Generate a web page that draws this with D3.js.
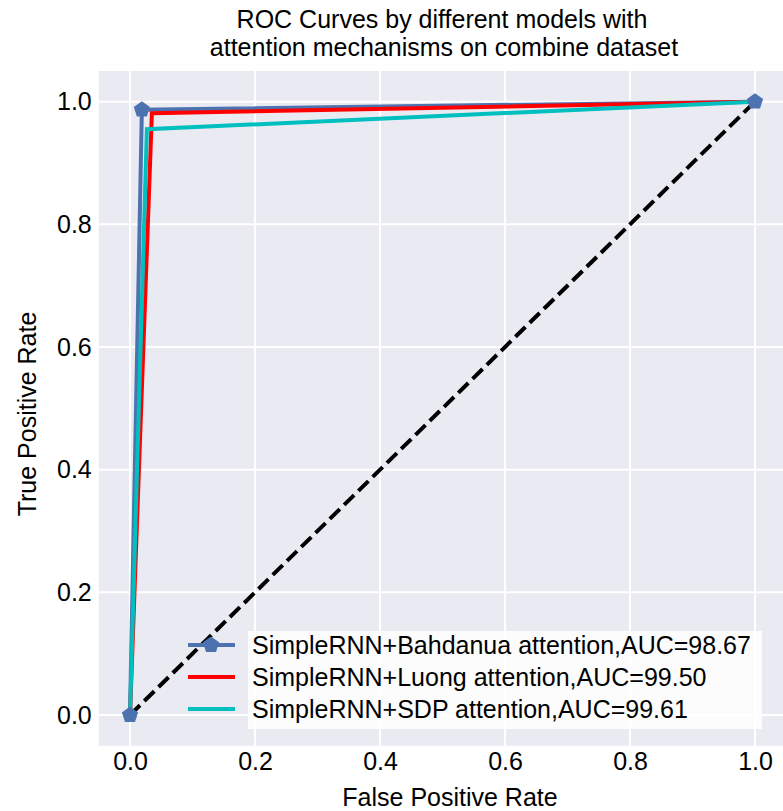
<!DOCTYPE html>
<html>
<head>
<meta charset="utf-8">
<script src="https://cdn.jsdelivr.net/npm/d3@7"></script>
<style>
  body { margin: 0; background: #fff; }
  text { font-family: "Liberation Sans", Arial, sans-serif; fill: #000; }
</style>
</head>
<body>
<svg id="chart" width="783" height="811"></svg>
<script>
// ROC points
var bahdanauFpr = [0, 0.019, 1];
var bahdanauTpr = [0, 0.987, 1];
var luongFpr = [0, 0.035, 1];
var luongTpr = [0, 0.981, 1];
var sdpFpr = [0, 0.027, 1];
var sdpTpr = [0, 0.955, 1];
var diagonal = [0, 1];

var seriesNames = ["SimpleRNN+Bahdanua attention,AUC=98.67",
                   "SimpleRNN+Luong attention,AUC=99.50",
                   "SimpleRNN+SDP attention,AUC=99.61"];
var seriesColors = ["#4c72b0", "#ff0000", "#00bfbf"];
var tickValues = [0, 0.2, 0.4, 0.6, 0.8, 1.0];

var FONT = "25px";
var svg = d3.select("#chart");

var x = d3.scaleLinear().domain([-0.05, 1.05]).range([98.75, 786.25]);
var y = d3.scaleLinear().domain([-0.05, 1.05]).range([745.7, 71]);

// background
svg.append("rect")
    .attr("x", x(-0.05)).attr("y", y(1.05))
    .attr("width", x(1.05) - x(-0.05))
    .attr("height", y(-0.05) - y(1.05))
    .attr("fill", "#eaeaf2");

// grid
svg.append("g").selectAll("line").data(tickValues).enter().append("line")
    .attr("x1", function(d) { return x(d); }).attr("x2", function(d) { return x(d); })
    .attr("y1", y(1.05)).attr("y2", y(-0.05))
    .attr("stroke", "#fff").attr("stroke-width", 2);
svg.append("g").selectAll("line").data(tickValues).enter().append("line")
    .attr("y1", function(d) { return y(d); }).attr("y2", function(d) { return y(d); })
    .attr("x1", x(-0.05)).attr("x2", x(1.05))
    .attr("stroke", "#fff").attr("stroke-width", 2);

// axes (labels only, seaborn style)
var xAxis = svg.append("g")
    .attr("transform", "translate(0," + y(-0.05) + ")")
    .call(d3.axisBottom(x).tickValues(tickValues).tickFormat(d3.format(".1f")).tickSize(0).tickPadding(7));
var yAxis = svg.append("g")
    .attr("transform", "translate(" + x(-0.05) + ",0)")
    .call(d3.axisLeft(y).tickValues(tickValues).tickFormat(d3.format(".1f")).tickSize(0).tickPadding(7));
[xAxis, yAxis].forEach(function(a) {
    a.select(".domain").remove();
    a.selectAll("text").style("font-size", FONT).style("font-family", "Liberation Sans, Arial, sans-serif");
});

var line = d3.line()
    .x(function(d) { return x(d[0]); })
    .y(function(d) { return y(d[1]); });

function zipPts(a, b) { return a.map(function(v, i) { return [v, b[i]]; }); }

var series = [zipPts(bahdanauFpr, bahdanauTpr), zipPts(luongFpr, luongTpr), zipPts(sdpFpr, sdpTpr)];

series.forEach(function(pts, i) {
    svg.append("path")
        .attr("d", line(pts))
        .attr("fill", "none")
        .attr("stroke", seriesColors[i])
        .attr("stroke-width", 4)
        .attr("stroke-linejoin", "miter");
});

svg.append("path")
    .attr("d", line(zipPts(diagonal, diagonal)))
    .attr("fill", "none")
    .attr("stroke", "#000")
    .attr("stroke-width", 4)
    .attr("stroke-dasharray", "14,6");

function pentagonPath(r) {
    var p = [];
    for (var k = 0; k < 5; k++) {
        var a = -Math.PI / 2 + k * 2 * Math.PI / 5;
        p.push([r * Math.cos(a), r * Math.sin(a)]);
    }
    return "M" + p.join("L") + "Z";
}

svg.append("g").selectAll("path").data(series[0]).enter().append("path")
    .attr("d", pentagonPath(8.5))
    .attr("transform", function(d) { return "translate(" + x(d[0]) + "," + y(d[1]) + ")"; })
    .attr("fill", seriesColors[0]);

// legend
var lg = svg.append("g");
lg.append("rect")
    .attr("x", 248).attr("y", 631).attr("width", 514).attr("height", 98)
    .attr("fill", "#fff").attr("fill-opacity", 0.85);
seriesNames.forEach(function(name, i) {
    var cy = 645 + i * 32;
    lg.append("line")
        .attr("x1", 188).attr("x2", 235).attr("y1", cy).attr("y2", cy)
        .attr("stroke", seriesColors[i]).attr("stroke-width", 4);
    if (i === 0) {
        lg.append("path").attr("d", pentagonPath(8.5))
            .attr("transform", "translate(211," + cy + ")")
            .attr("fill", seriesColors[0]);
    }
    lg.append("text")
        .attr("x", 252).attr("y", cy + 9)
        .style("font-size", FONT)
        .text(name);
});

// title and axis labels
svg.append("text").attr("x", 442).attr("y", 28).attr("text-anchor", "middle")
    .style("font-size", FONT).text("ROC Curves by different models with");
svg.append("text").attr("x", 444).attr("y", 56).attr("text-anchor", "middle")
    .style("font-size", FONT).text("attention mechanisms on combine dataset");
svg.append("text").attr("x", 450).attr("y", 806).attr("text-anchor", "middle")
    .style("font-size", FONT).text("False Positive Rate");
svg.append("text").attr("transform", "translate(36,414) rotate(-90)").attr("text-anchor", "middle")
    .style("font-size", FONT).text("True Positive Rate");
</script>
</body>
</html>
